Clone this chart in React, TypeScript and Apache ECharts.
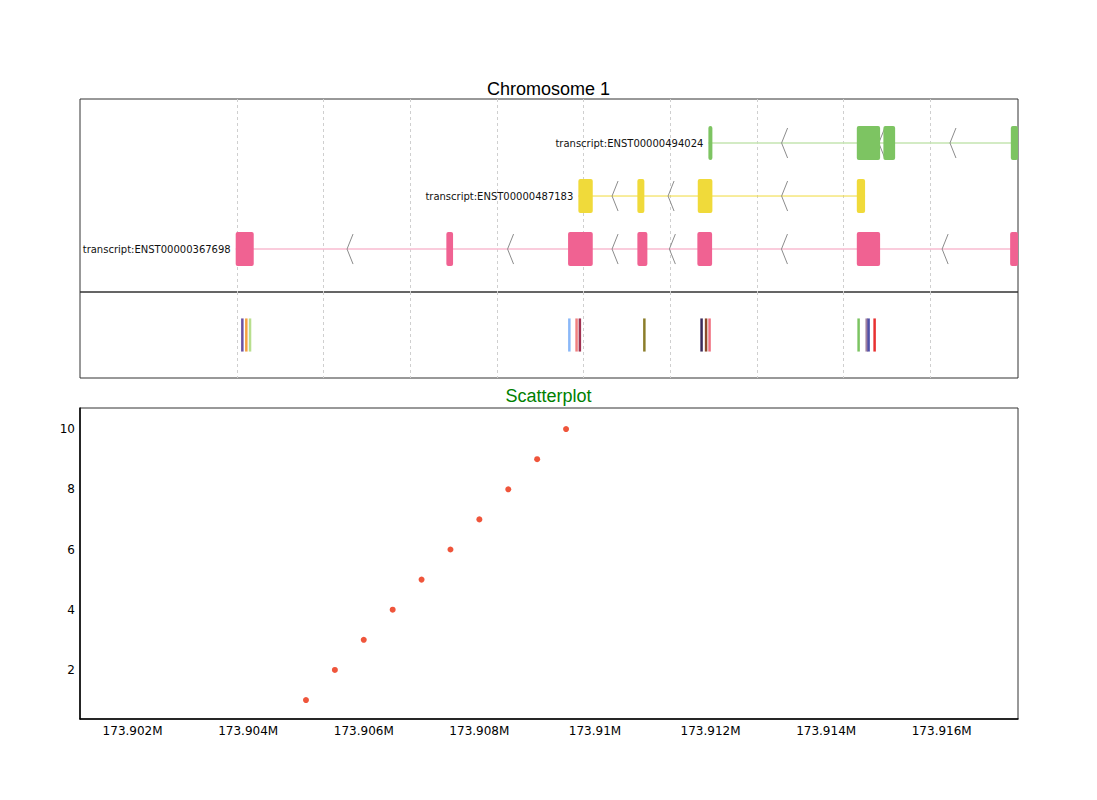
import React, { useEffect, useRef } from "react";
import * as echarts from "echarts";

// ---- data ----
const xMin = 173901090;
const xMax = 173917320;

const transcriptLabels = [
  "transcript:ENST00000367698",
  "transcript:ENST00000487183",
  "transcript:ENST00000494024",
];
const exonsENST00000367698 = [
  [173903784, 173904096],
  [173907429, 173907545],
  [173909535, 173909962],
  [173910734, 173910907],
  [173911772, 173912027],
  [173914531, 173914934],
  [173917184, 173917600],
];
const exonsENST00000487183 = [
  [173909713, 173909962],
  [173910734, 173910855],
  [173911779, 173912032],
  [173914531, 173914674],
];
const exonsENST00000494024 = [
  [173911963, 173912032],
  [173914531, 173914934],
  [173914991, 173915194],
  [173917196, 173917600],
];
const transcriptExons = [exonsENST00000367698, exonsENST00000487183, exonsENST00000494024];
const transcriptRows = [0, 1, 2];

const gridTicks = [
  173903800, 173905300, 173906800, 173908300, 173909800, 173911300, 173912800, 173914300, 173915800,
];

const variantPositions = [
  173903899, 173903968, 173904032,
  173909557, 173909682, 173909739,
  173910855,
  173911845, 173911923, 173911983,
  173914562, 173914702, 173914735, 173914839,
];
const variantColors = [
  "#6a51a3", "#f4a040", "#b8df8e",
  "#8ab8f8", "#f08080", "#a03050",
  "#8b7d2a",
  "#3a2a5a", "#8b4a2a", "#f07080",
  "#7cc462", "#a080a0", "#5050a8", "#e83030",
];

const scatterX = [
  173905000, 173905500, 173906000, 173906500, 173907000,
  173907500, 173908000, 173908500, 173909000, 173909500,
];
const scatterY = [1, 2, 3, 4, 5, 6, 7, 8, 9, 10];

// ---- styles ----
const exonColors = ["#f06292", "#f0da3a", "#7dc462"];
const intronColors = ["#f8bbd0", "#f0da3a", "#c5e4b0"];
const intronWidths = [1.5, 1, 1.5];
const labelFont = "DejaVu Sans";

export default function App() {
  const ref = useRef<HTMLDivElement>(null);

  useEffect(() => {
    if (!ref.current) return;
    const chart = echarts.init(ref.current, null, { renderer: "svg" });

    const gridLineSeries = (idx: number) => ({
      type: "custom",
      xAxisIndex: idx,
      yAxisIndex: idx,
      z: 1,
      silent: true,
      data: gridTicks.map((v) => [v, 0]),
      renderItem: (params: any, api: any) => {
        const cs = params.coordSys;
        const x = Math.round(api.coord([api.value(0), 0])[0]) + 0.5;
        return {
          type: "line",
          shape: { x1: x, y1: cs.y, x2: x, y2: cs.y + cs.height },
          style: { stroke: "#cfcfcf", lineWidth: 1, lineDash: [3, 3] },
        };
      },
    });

    const option: any = {
      animation: false,
      backgroundColor: "#ffffff",
      title: [
        {
          text: "Chromosome 1",
          left: "center",
          top: 75,
          textStyle: { fontSize: 18, fontWeight: "normal", color: "#000", fontFamily: "Liberation Sans" },
        },
        {
          text: "Scatterplot",
          left: "center",
          top: 382,
          textStyle: { fontSize: 18, fontWeight: "normal", color: "#008000", fontFamily: "Liberation Sans" },
        },
      ],
      grid: [
        { left: 80, width: 938, top: 99, height: 193, show: true, borderColor: "#333", borderWidth: 1, containLabel: false },
        { left: 80, width: 938, top: 292, height: 86, show: true, borderColor: "#333", borderWidth: 1, containLabel: false },
        { left: 80, width: 938, top: 408, height: 311, show: true, borderColor: "#333", borderWidth: 1, containLabel: false },
      ],
      xAxis: [
        { type: "value", gridIndex: 0, min: xMin, max: xMax, show: false },
        { type: "value", gridIndex: 1, min: xMin, max: xMax, show: false },
        {
          type: "value",
          gridIndex: 2,
          min: xMin,
          max: xMax,
          splitNumber: 8,
          axisLine: { show: true, lineStyle: { color: "#000", width: 1.5 } },
          axisTick: { show: false },
          splitLine: { show: false },
          axisLabel: {
            margin: 6,
            fontFamily: labelFont,
            fontSize: 12,
            color: "#000",
            formatter: (v: number) => (v % 2000 === 0 ? parseFloat((v / 1e6).toFixed(3)) + "M" : ""),
          },
        },
      ],
      yAxis: [
        { type: "value", gridIndex: 0, min: -0.81, max: 2.83, show: false },
        { type: "value", gridIndex: 1, min: -1, max: 1, show: false },
        {
          type: "value",
          gridIndex: 2,
          min: 0.37,
          max: 10.7,
          splitNumber: 5,
          axisLine: { show: true, lineStyle: { color: "#000", width: 1.5 } },
          axisTick: { show: false },
          splitLine: { show: false },
          axisLabel: {
            margin: 5,
            fontFamily: labelFont,
            fontSize: 12,
            color: "#000",
            formatter: (v: number) => (Math.abs(v - Math.round(v)) < 1e-9 && Math.round(v) % 2 === 0 ? String(Math.round(v)) : ""),
          },
        },
      ],
      series: [
        gridLineSeries(0),
        gridLineSeries(1),
        {
          type: "custom",
          xAxisIndex: 0,
          yAxisIndex: 0,
          z: 3,
          clip: true,
          data: transcriptRows.map((r, i) => [transcriptExons[i][0][0], r]),
          renderItem: (params: any, api: any) => {
            const i = params.dataIndex;
            const exons = transcriptExons[i];
            const row = api.value(1);
            const cs = params.coordSys;
            const h = api.size([0, 0.64])[1];
            const cy = api.coord([xMin, row])[1];
            const children: any[] = [];
            const first = api.coord([exons[0][0], row]);
            const last = api.coord([exons[exons.length - 1][1], row]);
            children.push({
              type: "line",
              shape: { x1: first[0], y1: cy, x2: Math.min(last[0], cs.x + cs.width), y2: cy },
              style: { stroke: intronColors[i], lineWidth: intronWidths[i] },
            });
            for (let k = 0; k < exons.length - 1; k++) {
              const mid = (exons[k][1] + exons[k + 1][0]) / 2;
              const cx = api.coord([mid, row])[0];
              children.push({
                type: "polyline",
                shape: { points: [[cx + 3, cy - 15], [cx - 3, cy], [cx + 3, cy + 15]] },
                style: { stroke: "#8c8c8c", lineWidth: 1, fill: null },
              });
            }
            exons.forEach((e: number[]) => {
              const p1 = api.coord([e[0], row]);
              const p2 = api.coord([e[1], row]);
              const rect = echarts.graphic.clipRectByRect(
                { x: p1[0], y: cy - h / 2, width: p2[0] - p1[0], height: h },
                { x: cs.x, y: cs.y, width: cs.width, height: cs.height }
              );
              if (rect) {
                children.push({
                  type: "rect",
                  shape: { ...rect, r: 2 },
                  style: { fill: exonColors[i] },
                });
              }
            });
            children.push({
              type: "text",
              x: first[0] - 5,
              y: cy,
              style: {
                text: transcriptLabels[i],
                align: "right",
                verticalAlign: "middle",
                fontSize: 10,
                fontFamily: labelFont,
                fill: "#111",
              },
            });
            return { type: "group", children };
          },
        },
        {
          type: "custom",
          xAxisIndex: 1,
          yAxisIndex: 1,
          z: 3,
          clip: true,
          data: variantPositions.map((p) => [p, 0]),
          renderItem: (params: any, api: any) => {
            const c = api.coord([api.value(0), api.value(1)]);
            const h = api.size([0, 0.77])[1];
            return {
              type: "rect",
              shape: { x: c[0] - 1.25, y: c[1] - h / 2, width: 2.5, height: h },
              style: { fill: variantColors[params.dataIndex] },
            };
          },
        },
        {
          type: "scatter",
          xAxisIndex: 2,
          yAxisIndex: 2,
          symbol: "circle",
          symbolSize: 6,
          itemStyle: { color: "#ef553b", opacity: 1 },
          data: scatterX.map((x, i) => [x, scatterY[i]]),
        },
      ],
    };

    chart.setOption(option);
    return () => chart.dispose();
  }, []);

  return (
    <div
      ref={ref}
      style={{ position: "absolute", left: 0, top: 0, width: 1097, height: 800, background: "#fff" }}
    />
  );
}
